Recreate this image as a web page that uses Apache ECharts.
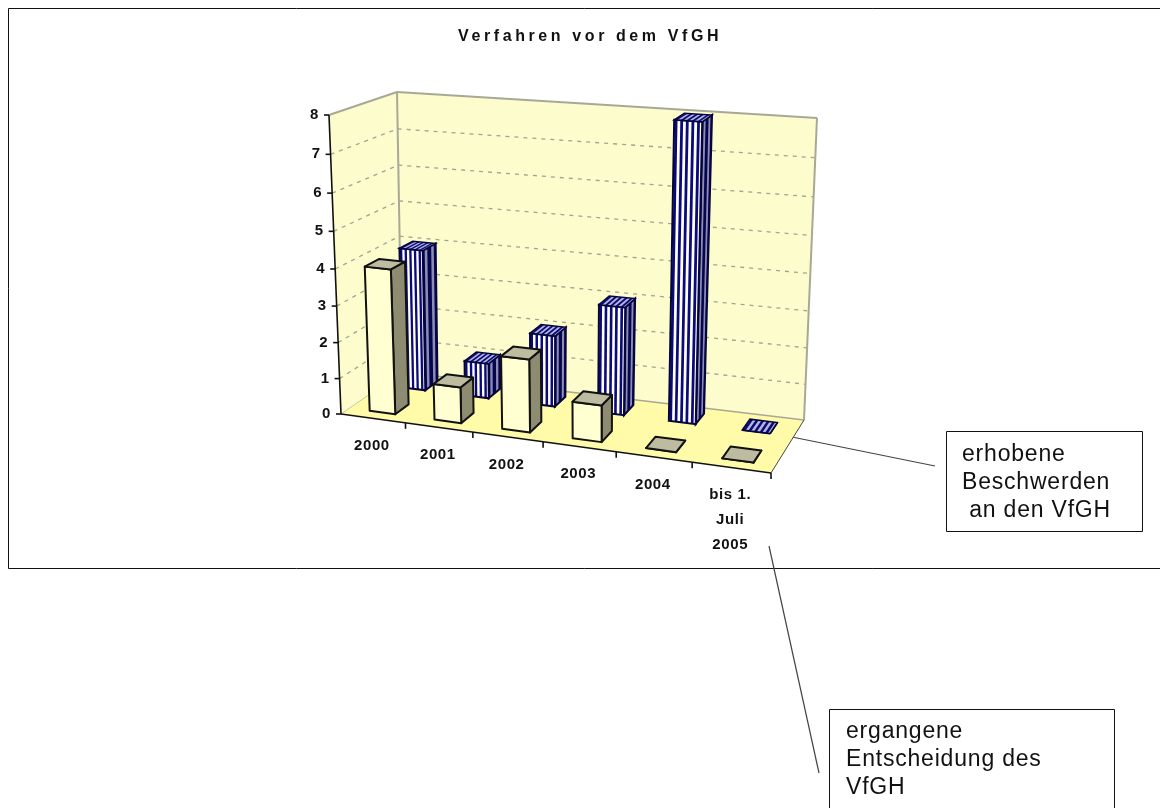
<!DOCTYPE html>
<html>
<head>
<meta charset="utf-8">
<title>Verfahren vor dem VfGH</title>
<style>
  html, body { margin: 0; padding: 0; background: #fff; overflow: hidden; }
  #chart { width: 1160px; height: 808px; }
</style>
<script src="https://cdn.jsdelivr.net/npm/echarts@6/dist/echarts.min.js"></script>
</head>
<body>
<div id="chart"></div>
<script>
// Chart values
const chartTitle = 'Verfahren vor dem VfGH';
const categories = ['2000', '2001', '2002', '2003', '2004', 'bis 1.\nJuli\n2005'];
const beschwerden = [4, 1, 2, 3, 8, 0];
const entscheidungen = [4, 1, 2, 1, 0, 0];
const valueTicks = [0, 1, 2, 3, 4, 5, 6, 7, 8];

const FONT = '"Liberation Sans", Arial, sans-serif';

// Corners of the oblique plot box, as seen by the camera
const box = {
  frontBottomLeft:  [341, 414], frontBottomRight: [771, 473],
  backBottomLeft:   [402, 372], backBottomRight:  [804, 420],
  frontTopLeft:     [329, 115], frontTopRight:    [777, 153],
  backTopLeft:      [397,  92], backTopRight:     [817, 118]
};

const mix = (a, b, t) => [a[0] + (b[0] - a[0]) * t, a[1] + (b[1] - a[1]) * t];

// Maps a point of the flat cartesian grid plus a depth (0 front, 1 back) into the box.
function project(coordSys, p, depth) {
  const U = (p[0] - coordSys.x) / coordSys.width;
  const V = (coordSys.y + coordSys.height - p[1]) / coordSys.height;
  const u = U * (0.88 + 0.12 * U);   // foreshortening along the category axis
  const v = V * (0.94 + 0.06 * V);   // foreshortening along the value axis
  const bottom = mix(mix(box.frontBottomLeft, box.frontBottomRight, u),
                     mix(box.backBottomLeft, box.backBottomRight, u), depth);
  const top = mix(mix(box.frontTopLeft, box.frontTopRight, u),
                  mix(box.backTopLeft, box.backTopRight, u), depth);
  return mix(bottom, top, v);
}

const poly = (points, style) => ({ type: 'polygon', shape: { points }, style, silent: true });
const line = (a, b, style) => ({
  type: 'line',
  shape: { x1: a[0], y1: a[1], x2: b[0], y2: b[1] },
  style: Object.assign({ fill: null }, style),
  silent: true
});

// Walls, floor, gridlines and axis lines
function renderBox(params, api) {
  const cs = params.coordSys;
  const maxV = valueTicks[valueTicks.length - 1];
  const left = cs.x, right = cs.x + cs.width, base = cs.y + cs.height;
  const corner = (xp, val, depth) => project(cs, [xp, api.coord([0, val])[1]], depth);
  const kids = [];

  const wall = { fill: '#FCFCCC', stroke: null };
  kids.push(poly([box.frontBottomLeft, box.frontTopLeft, box.backTopLeft, box.backBottomLeft], wall));
  kids.push(poly([box.backBottomLeft, box.backTopLeft, box.backTopRight, box.backBottomRight], wall));
  kids.push(poly([box.frontBottomLeft, box.frontBottomRight, box.backBottomRight, box.backBottomLeft],
    { fill: '#FFFBA8', stroke: null }));

  const grid = { stroke: '#A2A296', lineWidth: 1.3, lineDash: [4, 5] };
  valueTicks.forEach((val) => {
    if (val === 0 || val === maxV) return;
    kids.push(line(corner(left, val, 0), corner(left, val, 1), grid));
    kids.push(line(corner(left, val, 1), corner(right, val, 1), grid));
  });

  const edge = { stroke: '#A8A896', lineWidth: 2 };
  kids.push(line(box.frontTopLeft, box.backTopLeft, edge));
  kids.push(line(box.backTopLeft, box.backTopRight, edge));
  kids.push(line(box.backTopLeft, box.backBottomLeft, edge));
  kids.push(line(box.backTopRight, box.backBottomRight, edge));
  kids.push(line(box.backBottomLeft, box.backBottomRight, { stroke: '#A8A896', lineWidth: 1.5 }));
  kids.push(line(box.frontBottomLeft, box.backBottomLeft, { stroke: '#C8C8A8', lineWidth: 1 }));
  kids.push(line(box.frontBottomRight, box.backBottomRight, { stroke: '#444', lineWidth: 1 }));

  const axisStyle = { stroke: '#111', lineWidth: 1.6 };
  kids.push(line(box.frontBottomLeft, box.frontTopLeft, axisStyle));
  kids.push(line(box.frontBottomLeft, box.frontBottomRight, axisStyle));

  valueTicks.forEach((val) => {
    const p = corner(left, val, 0);
    kids.push(line([p[0] - 5, p[1]], p, axisStyle));
  });
  const band = cs.width / categories.length;
  categories.forEach((c, i) => {
    const p = project(cs, [left + band * (i + 1), base], 0);
    kids.push(line(p, [p[0], p[1] + 6], axisStyle));
  });
  return { type: 'group', children: kids };
}

// Tick labels sit in their own layer so they can be tracked slightly wider
function renderLabels(params, api) {
  const cs = params.coordSys;
  const kids = [];
  const base = { fill: '#111', fontFamily: FONT, fontWeight: 'bold', fontSize: 15 };
  valueTicks.forEach((val) => {
    const p = project(cs, [cs.x, api.coord([0, val])[1]], 0);
    kids.push({
      type: 'text', x: p[0] - 10, y: p[1], silent: true,
      style: Object.assign({ text: String(val), align: 'right', verticalAlign: 'middle' }, base)
    });
  });
  categories.forEach((c, i) => {
    const p = project(cs, api.coord([i, 0]), 0);
    kids.push({
      type: 'text', x: p[0] - 1, y: p[1] + 15, silent: true,
      style: Object.assign({ text: c, align: 'center', verticalAlign: 'top', lineHeight: 25 }, base)
    });
  });
  return { type: 'group', children: kids };
}

// Shared geometry of one 3D bar, taken from the chart's scales
function barFaces(api, params) {
  const cs = params.coordSys;
  const idx = api.value(0), val = api.value(1);
  const center = api.coord([idx, 0]);
  const band = api.size([1, 0])[0];
  const topY = api.coord([idx, val])[1];
  const xAt = (t) => center[0] + (t - 0.5) * band;
  const p = (t, y, d) => project(cs, [xAt(t), y], d);
  return { p, baseY: center[1], topY };
}

function renderPlainBar(a, b, f, k) {
  return function (params, api) {
    const { p, baseY, topY } = barFaces(api, params);
    const border = { stroke: '#111', lineWidth: 2, lineJoin: 'round' };
    return {
      type: 'group',
      children: [
        poly([p(b, baseY, f), p(b, topY, f), p(b, topY, k), p(b, baseY, k)],
          Object.assign({ fill: '#8E8C70' }, border)),
        poly([p(a, baseY, f), p(b, baseY, f), p(b, topY, f), p(a, topY, f)],
          Object.assign({ fill: '#FFFFD2' }, border)),
        poly([p(a, topY, f), p(b, topY, f), p(b, topY, k), p(a, topY, k)],
          Object.assign({ fill: '#BDBCA0' }, border))
      ]
    };
  };
}

function renderStripedBar(a, b, f, k) {
  const NAVY = '#0A0A78';
  const frontStripes = 5, sideStripes = 2;
  return function (params, api) {
    const { p, baseY, topY } = barFaces(api, params);
    const edge = '#05053C';
    const kids = [];

    // right side: dark face with pale stripes
    kids.push(poly([p(b, baseY, f), p(b, topY, f), p(b, topY, k), p(b, baseY, k)],
      { fill: '#06064E', stroke: null }));
    if (topY < baseY) {
      for (let i = 0; i < sideStripes; i++) {
        const d0 = f + (k - f) * (i + 0.3) / sideStripes;
        const d1 = d0 + (k - f) * 0.2;
        kids.push(poly([p(b, baseY, d0), p(b, topY, d0), p(b, topY, d1), p(b, baseY, d1)],
          { fill: '#8C8CB4', stroke: null }));
      }
    }
    kids.push(poly([p(b, baseY, f), p(b, topY, f), p(b, topY, k), p(b, baseY, k)],
      { fill: null, stroke: edge, lineWidth: 2 }));

    // front face: white with navy stripes
    kids.push(poly([p(a, baseY, f), p(b, baseY, f), p(b, topY, f), p(a, topY, f)],
      { fill: '#FFFFFF', stroke: null }));
    if (topY < baseY) {
      for (let i = 0; i < frontStripes; i++) {
        const t0 = a + (b - a) * (i + 0.1) / frontStripes;
        const t1 = t0 + (b - a) * 0.1;
        kids.push(poly([p(t0, baseY, f), p(t1, baseY, f), p(t1, topY, f), p(t0, topY, f)],
          { fill: NAVY, stroke: null }));
      }
    }
    kids.push(poly([p(a, baseY, f), p(b, baseY, f), p(b, topY, f), p(a, topY, f)],
      { fill: null, stroke: edge, lineWidth: 2 }));

    // top face: lilac with navy stripes
    kids.push(poly([p(a, topY, f), p(b, topY, f), p(b, topY, k), p(a, topY, k)],
      { fill: '#B4B4DC', stroke: null }));
    for (let i = 0; i < frontStripes; i++) {
      const t0 = a + (b - a) * (i + 0.1) / frontStripes;
      const t1 = t0 + (b - a) * 0.1;
      kids.push(poly([p(t0, topY, f), p(t1, topY, f), p(t1, topY, k), p(t0, topY, k)],
        { fill: NAVY, stroke: null }));
    }
    kids.push(poly([p(a, topY, f), p(b, topY, f), p(b, topY, k), p(a, topY, k)],
      { fill: null, stroke: edge, lineWidth: 1.5 }));
    return { type: 'group', children: kids };
  };
}

const chart = echarts.init(document.getElementById('chart'), null, { renderer: 'canvas' });

// Title, tick labels and notes are drawn with tracked-out letters on their own layers
const painter = chart.getZr().painter;
painter.getLayer(1).ctx.letterSpacing = '3.6px';
painter.getLayer(2).ctx.letterSpacing = '0.6px';
painter.getLayer(3).ctx.letterSpacing = '0.8px';

const noteText = { fill: '#111', fontFamily: FONT, fontSize: 23, lineHeight: 28, align: 'left', verticalAlign: 'top' };

chart.setOption({
  animation: false,
  backgroundColor: '#FFFFFF',
  title: {
    text: chartTitle, left: 458, top: 29, zlevel: 1, padding: 0,
    textStyle: { fontFamily: FONT, fontWeight: 'bold', fontSize: 16, color: '#111' }
  },
  tooltip: { show: false },
  grid: { left: 341, top: 115, width: 430, height: 299, containLabel: false },
  xAxis: { type: 'category', data: categories, show: false },
  yAxis: { type: 'value', min: 0, max: 8, interval: 1, show: false },
  series: [
    { type: 'custom', name: 'Diagrammrahmen', coordinateSystem: 'cartesian2d', data: [[0, 0]], renderItem: renderBox, silent: true, z: 1 },
    {
      type: 'custom', name: 'erhobene Beschwerden an den VfGH', coordinateSystem: 'cartesian2d',
      data: beschwerden.map((v, i) => [i, v]), encode: { x: 0, y: 1 },
      renderItem: renderStripedBar(0.32, 0.69, 0.69, 0.90), silent: true, z: 2
    },
    {
      type: 'custom', name: 'ergangene Entscheidung des VfGH', coordinateSystem: 'cartesian2d',
      data: entscheidungen.map((v, i) => [i, v]), encode: { x: 0, y: 1 },
      renderItem: renderPlainBar(0.32, 0.72, 0.14, 0.37), silent: true, z: 3
    },
    { type: 'custom', name: 'Achsenbeschriftung', coordinateSystem: 'cartesian2d', data: [[0, 0]], renderItem: renderLabels, silent: true, zlevel: 2 }
  ],
  graphic: [
    { type: 'rect', silent: true, z: 0, zlevel: 0, shape: { x: 8.5, y: 8.5, width: 1170, height: 560 }, style: { fill: null, stroke: '#111', lineWidth: 1 } },
    { type: 'line', silent: true, shape: { x1: 792, y1: 437, x2: 935, y2: 466 }, style: { stroke: '#444', lineWidth: 1.2 } },
    { type: 'line', silent: true, shape: { x1: 769, y1: 546, x2: 819, y2: 773 }, style: { stroke: '#444', lineWidth: 1.2 } },
    { type: 'rect', silent: true, shape: { x: 946.5, y: 431.5, width: 196, height: 100 }, style: { fill: '#fff', stroke: '#111', lineWidth: 1 } },
    { type: 'text', silent: true, zlevel: 3, x: 962, y: 441, style: Object.assign({ text: 'erhobene\nBeschwerden\n an den VfGH' }, noteText) },
    { type: 'rect', silent: true, shape: { x: 829.5, y: 709.5, width: 285, height: 110 }, style: { fill: '#fff', stroke: '#111', lineWidth: 1 } },
    { type: 'text', silent: true, zlevel: 3, x: 846, y: 718, style: Object.assign({ text: 'ergangene\nEntscheidung des\nVfGH' }, noteText) }
  ]
});
</script>
</body>
</html>
